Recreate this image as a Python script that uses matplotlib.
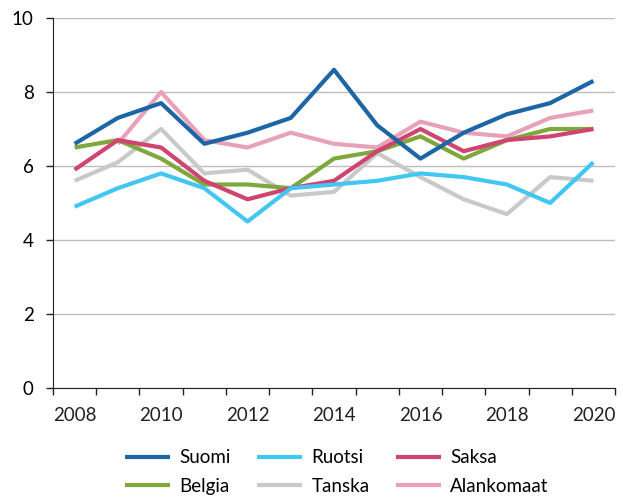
import matplotlib.pyplot as plt

years = list(range(2008, 2021))
suomi = [6.6, 7.3, 7.7, 6.6, 6.9, 7.3, 8.6, 7.1, 6.2, 6.9, 7.4, 7.7, 8.3]
ruotsi = [4.9, 5.4, 5.8, 5.4, 4.5, 5.4, 5.5, 5.6, 5.8, 5.7, 5.5, 5.0, 6.1]
saksa = [5.9, 6.7, 6.5, 5.6, 5.1, 5.4, 5.6, 6.4, 7.0, 6.4, 6.7, 6.8, 7.0]
belgia = [6.5, 6.7, 6.2, 5.5, 5.5, 5.4, 6.2, 6.4, 6.8, 6.2, 6.7, 7.0, 7.0]
tanska = [5.6, 6.1, 7.0, 5.8, 5.9, 5.2, 5.3, 6.35, 5.7, 5.1, 4.7, 5.7, 5.6]
alankomaat = [None, 6.6, 8.0, 6.7, 6.5, 6.9, 6.6, 6.5, 7.2, 6.9, 6.8, 7.3, 7.5]

series = [
    ('Suomi', suomi, '#1c66a6'),
    ('Ruotsi', ruotsi, '#42c6f3'),
    ('Saksa', saksa, '#cf4470'),
    ('Belgia', belgia, '#7ea73c'),
    ('Tanska', tanska, '#c9c9c9'),
    ('Alankomaat', alankomaat, '#e9a1b9'),
]

plt.rcParams['font.family'] = ['Lato', 'DejaVu Sans']

fig = plt.figure(figsize=(6.23, 4.98), dpi=100)
ax = fig.add_axes([53/623, 1-388/498, 562/623, 370/498])

x = list(range(len(years)))
# draw in reverse so Suomi sits on top
for name, vals, col in reversed(series):
    xs = [i for i, v in zip(x, vals) if v is not None]
    ys = [v for v in vals if v is not None]
    ax.plot(xs, ys, color=col, lw=3, label=name, solid_capstyle='butt')

ax.set_ylim(0, 10)
ax.set_xlim(-0.5, len(years) - 0.5)
ax.set_yticks([0, 2, 4, 6, 8, 10])
ax.yaxis.grid(True, color='#bdbdbd', lw=1)
ax.set_axisbelow(True)

ax.set_xticks(x[::2])
ax.set_xticklabels([str(y) for y in years[::2]])
ax.set_xticks([i - 0.5 for i in range(len(years) + 1)], minor=True)
ax.tick_params(axis='x', which='major', length=0, pad=14, labelsize=13.5, colors='#222222')
ax.tick_params(axis='x', which='minor', length=5, width=1, color='#222222')
ax.tick_params(axis='y', length=5, width=1, color='#222222', labelsize=13.5, pad=9)

for s in ['top', 'right']:
    ax.spines[s].set_visible(False)
for s in ['left', 'bottom']:
    ax.spines[s].set_color('#222222')

handles, labels = ax.get_legend_handles_labels()
order = ['Suomi', 'Belgia', 'Ruotsi', 'Tanska', 'Saksa', 'Alankomaat']
hmap = dict(zip(labels, handles))
fig.legend([hmap[n] for n in order], order, loc='center', ncol=3,
           bbox_to_anchor=(337/623, 1-472/498), frameon=False, fontsize=13.5,
           handlelength=2.4, columnspacing=1.4, handletextpad=0.5, labelspacing=0.6)

fig.savefig('out.png', dpi=100)
